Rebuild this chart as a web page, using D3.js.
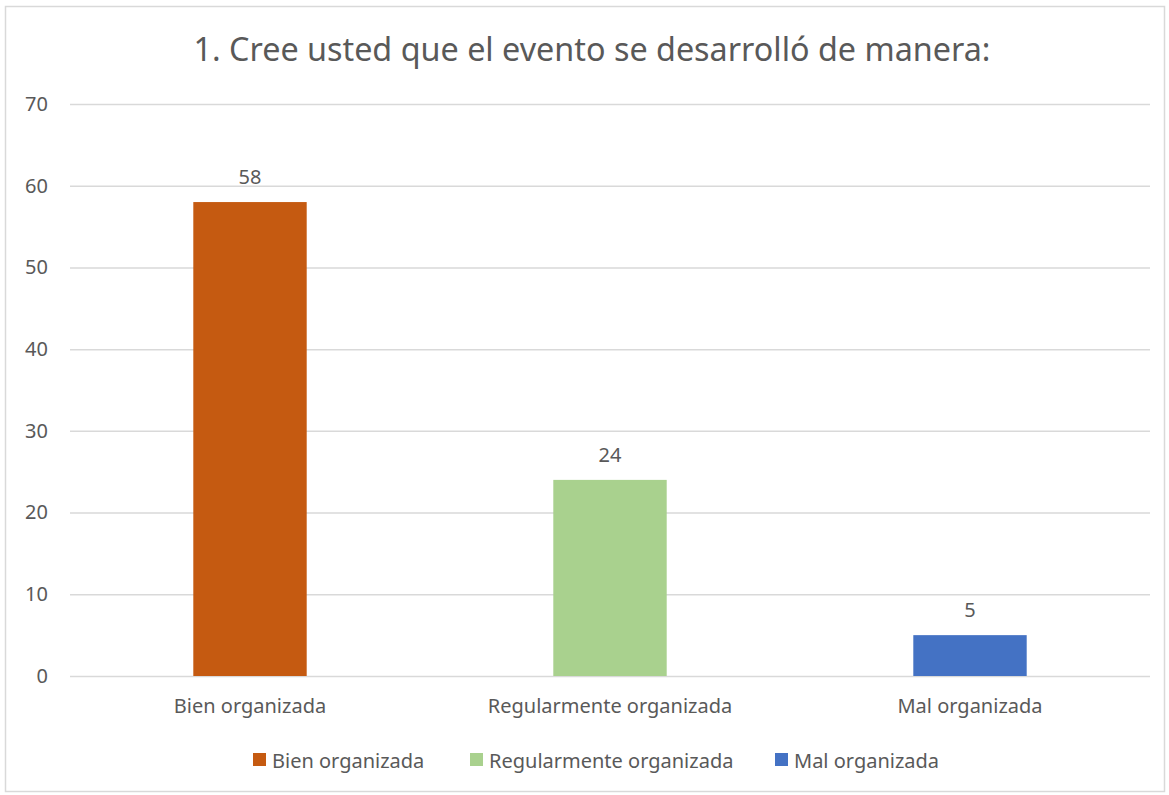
<!DOCTYPE html>
<html><head><meta charset="utf-8">
<script src="https://cdn.jsdelivr.net/npm/d3@7"></script>
<style>body{margin:0;background:#fff}svg{display:block}</style>
</head><body>
<svg id="c" width="1169" height="795"></svg>
<script>
const categories = ["Bien organizada", "Regularmente organizada", "Mal organizada"];
const values = [58, 24, 5];
const colors = ["#C55A11", "#A9D18E", "#4472C4"];
const yTicks = [0, 10, 20, 30, 40, 50, 60, 70];
const title = "1. Cree usted que el evento se desarrolló de manera:";

const svg = d3.select("#c");
const font = "'Noto Sans', 'Open Sans', sans-serif";
const textCol = "#595959";

svg.append("rect").attr("x", 5.5).attr("y", 6.5).attr("width", 1159).attr("height", 785)
  .attr("fill", "#fff").attr("stroke", "#d9d9d9").attr("stroke-width", 1.5);

const x = d3.scaleBand().domain(categories).range([70, 1150]).padding(0);
const y = d3.scaleLinear().domain([0, 70]).range([676, 104]);

svg.append("text").attr("x", 592).attr("y", 61).attr("text-anchor", "middle")
  .attr("font-family", font).attr("font-size", 32).attr("fill", textCol)
  .attr("textLength", 797).attr("lengthAdjust", "spacingAndGlyphs").text(title);

const yAxis = svg.append("g").attr("transform", "translate(70,0)")
  .call(d3.axisLeft(y).tickValues(yTicks).tickSize(-1080).tickPadding(22));
yAxis.select(".domain").remove();
yAxis.selectAll("line").attr("stroke", "#d9d9d9").attr("stroke-width", 1.5);
yAxis.selectAll("text").attr("font-family", font).attr("font-size", 20).attr("fill", textCol);

const bw = x.bandwidth() * 0.315;
svg.selectAll(".bar").data(values).enter().append("rect")
  .attr("x", (d, i) => x(categories[i]) + x.bandwidth() / 2 - bw / 2)
  .attr("y", d => y(d)).attr("width", bw).attr("height", d => y(0) - y(d))
  .attr("fill", (d, i) => colors[i]);

svg.selectAll(".lbl").data(values).enter().append("text")
  .attr("x", (d, i) => x(categories[i]) + x.bandwidth() / 2)
  .attr("y", d => y(d) - 18).attr("text-anchor", "middle")
  .attr("font-family", font).attr("font-size", 20).attr("fill", textCol).text(d => d);

svg.selectAll(".cat").data(categories).enter().append("text")
  .attr("x", d => x(d) + x.bandwidth() / 2).attr("y", 713).attr("text-anchor", "middle")
  .attr("font-family", font).attr("font-size", 20).attr("fill", textCol).text(d => d);

const legX = [253, 470, 775];
const lg = svg.selectAll(".leg").data(categories).enter().append("g")
  .attr("transform", (d, i) => `translate(${legX[i]},768)`);
lg.append("rect").attr("x", 0).attr("y", -15).attr("width", 13).attr("height", 13)
  .attr("fill", (d, i) => colors[i]);
lg.append("text").attr("x", 19).attr("y", 0).attr("font-family", font).attr("font-size", 20)
  .attr("fill", textCol).text(d => d);
</script>
</body></html>
